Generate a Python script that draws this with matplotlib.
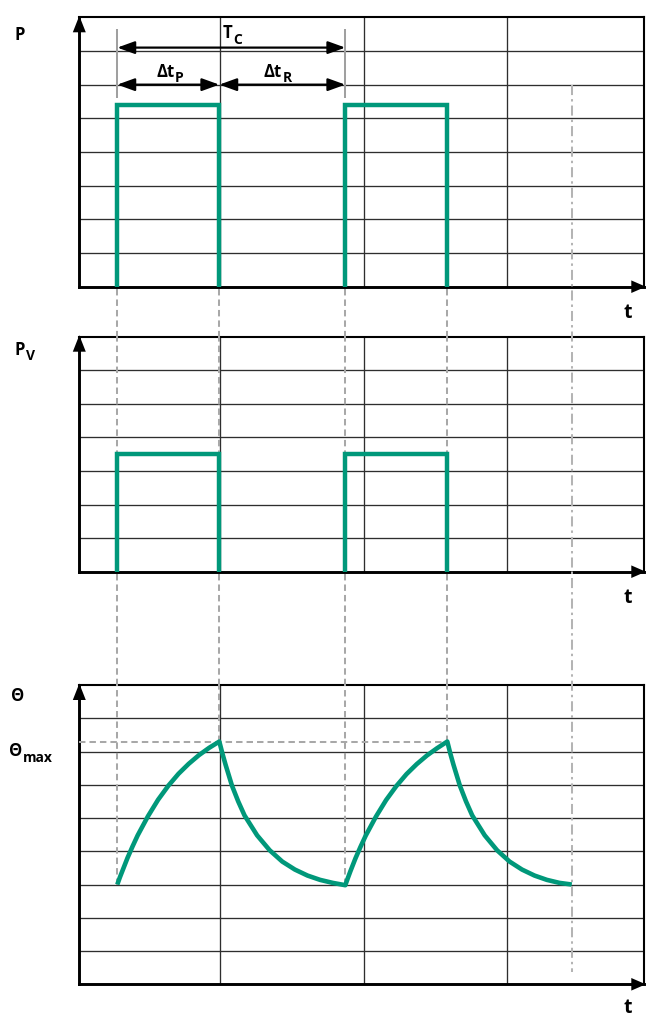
import numpy as np
import matplotlib
matplotlib.use("Agg")
import matplotlib.pyplot as plt
import matplotlib.transforms as mtransforms
from matplotlib.lines import Line2D
from matplotlib.patches import Polygon
from matplotlib import font_manager as fm

# ---------------- data ----------------
time_max = 565
grid_times = [141, 285, 428]
pulse_starts = [38, 266]
pulse_ends = [140, 368]
p_level = 5.4
pv_level = 3.5
p_rows = 8
pv_rows = 7
theta_rows = 9

theta_t = [38, 40.5, 43.1, 48.2, 53.3, 58.4, 68.6, 78.8, 89, 99.2, 109.4, 119.6, 129.8, 140,
           143.2, 146.3, 152.6, 158.9, 165.2, 177.8, 190.4, 203, 215.6, 228.2, 240.8, 253.4, 266,
           268.5, 271.1, 276.2, 281.3, 286.4, 296.6, 306.8, 317, 327.2, 337.4, 347.6, 357.8, 368,
           371.1, 374.2, 380.5, 386.7, 392.9, 405.4, 417.8, 430.3, 442.7, 455.2, 467.6, 480.1, 492.5]
theta_v = [3.0, 3.21, 3.41, 3.80, 4.15, 4.48, 5.05, 5.55, 5.97, 6.33, 6.63, 6.89, 7.11, 7.3,
           6.93, 6.6, 5.98, 5.5, 5.08, 4.48, 4.03, 3.69, 3.45, 3.27, 3.14, 3.05, 2.98,
           3.19, 3.40, 3.79, 4.14, 4.47, 5.04, 5.54, 5.96, 6.32, 6.62, 6.88, 7.1, 7.3,
           6.93, 6.6, 5.98, 5.5, 5.08, 4.48, 4.03, 3.69, 3.45, 3.27, 3.14, 3.05, 3.0]

cycle_mark_time = 492.5
cycle_mark_top_p = 6.0
cycle_mark_bottom_theta = 0.38
tc_arrow_level = 7.1
dt_arrow_level = 6.0
ext_low, ext_high = 5.6, 7.65

# ---------------- style ----------------
W, H = 646, 1019
GREEN = "#00987a"
GRID = "#2e2e2e"
DASH_GRAY = "#a8a8a8"
DASHDOT_GRAY = "#b4b4b4"
EXT_GRAY = "#a0a0a0"


def pick_bold_family():
    for fam in ["Open Sans", "Lato", "Noto Sans", "Liberation Sans"]:
        try:
            path = fm.findfont(fm.FontProperties(family=fam, weight="bold"), fallback_to_default=False)
        except Exception:
            continue
        name = path.lower().replace(" ", "").replace("-", "").replace("_", "")
        if "bold" in name and fam.lower().replace(" ", "") in name:
            return fam
    return "DejaVu Sans"


FONT = [pick_bold_family(), "DejaVu Sans"]

fig = plt.figure(figsize=(W / 100, H / 100), dpi=100)


def add_panel(top, bottom, rows):
    left, right = 79.3, 644.3
    wp, hp = right - left, bottom - top
    ax = fig.add_axes([left / W, 1 - bottom / H, wp / W, hp / H])
    ax.set_xlim(0, time_max)
    ax.set_ylim(0, rows)
    ax.set_xticks([])
    ax.set_yticks([])
    for r in range(1, rows):
        ax.axhline(r, color=GRID, lw=0.95, zorder=1)
    for g in grid_times:
        ax.axvline(g, color=GRID, lw=0.95, zorder=1)
    for s in ("top", "right"):
        ax.spines[s].set_linewidth(1.5)
        ax.spines[s].set_color("black")
    for s in ("left", "bottom"):
        ax.spines[s].set_linewidth(2.1)
        ax.spines[s].set_color("black")
    ya = Polygon([(0, 1 + 1.5 / hp), (-6.5 / wp, 1 - 15 / hp), (6.5 / wp, 1 - 15 / hp)],
                 closed=True, transform=ax.transAxes, clip_on=False,
                 facecolor="black", edgecolor="none", zorder=6)
    xa = Polygon([(1 + 1.5 / wp, 0), (1 - 13 / wp, 6.3 / hp), (1 - 13 / wp, -6.3 / hp)],
                 closed=True, transform=ax.transAxes, clip_on=False,
                 facecolor="black", edgecolor="none", zorder=6)
    ax.add_patch(ya)
    ax.add_patch(xa)
    return ax


ax1 = add_panel(17.3, 286.7, p_rows)
ax2 = add_panel(336.7, 571.7, pv_rows)
ax3 = add_panel(685.0, 984.3, theta_rows)

line_kw = dict(color=GREEN, lw=3.2, solid_joinstyle="miter", solid_capstyle="butt", zorder=4)
for s, e in zip(pulse_starts, pulse_ends):
    ax1.plot([s, s, e, e], [0, p_level, p_level, 0], **line_kw)
    ax2.plot([s, s, e, e], [0, pv_level, pv_level, 0], **line_kw)
ax3.plot(theta_t, theta_v, color=GREEN, lw=3.3, solid_joinstyle="round",
         solid_capstyle="butt", zorder=4)

# dashed guide lines
dash_kw = dict(color=DASH_GRAY, lw=1.45, dashes=(3.2, 2.0), zorder=3)
edge_times = sorted(pulse_starts + pulse_ends)
edge_theta = np.interp(edge_times, theta_t, theta_v)
blend = mtransforms.blended_transform_factory(ax1.transData, fig.transFigure)
p1, p2, p3 = ax1.get_position(), ax2.get_position(), ax3.get_position()
for t, th in zip(edge_times, edge_theta):
    ax2.plot([t, t], [0, pv_rows], **dash_kw)
    ax3.plot([t, t], [th, theta_rows], **dash_kw)
    fig.add_artist(Line2D([t, t], [p1.y0 - 2 / H, p2.y1], transform=blend, **dash_kw))
    fig.add_artist(Line2D([t, t], [p2.y0 - 2 / H, p3.y1], transform=blend, **dash_kw))

theta_max = max(theta_v)
ax3.plot([0, pulse_ends[-1]], [theta_max, theta_max], **dash_kw)

# dash-dot cycle marker
inv = fig.transFigure.inverted()
y_top = inv.transform(ax1.transData.transform((cycle_mark_time, cycle_mark_top_p)))[1]
y_bot = inv.transform(ax3.transData.transform((cycle_mark_time, cycle_mark_bottom_theta)))[1]
fig.add_artist(Line2D([cycle_mark_time] * 2, [y_top, y_bot], transform=blend,
                      color=DASHDOT_GRAY, lw=1.45, linestyle=(0, (5, 2, 1.2, 2)), zorder=5))

# dimension lines
for t in (pulse_starts[0], pulse_starts[1]):
    ax1.plot([t, t], [ext_low, ext_high], color=EXT_GRAY, lw=1.45, solid_capstyle="butt", zorder=3)
ap = dict(arrowstyle="<|-|>,head_length=1.05,head_width=0.38", color="black", lw=1.6,
          shrinkA=0, shrinkB=0, mutation_scale=10)
ax1.annotate("", xy=(pulse_starts[1], tc_arrow_level), xytext=(pulse_starts[0], tc_arrow_level), arrowprops=ap)
ax1.annotate("", xy=(pulse_ends[0], dt_arrow_level), xytext=(pulse_starts[0], dt_arrow_level), arrowprops=ap)
ax1.annotate("", xy=(pulse_starts[1], dt_arrow_level), xytext=(pulse_ends[0], dt_arrow_level), arrowprops=ap)

# ---------------- labels ----------------
renderer = fig.canvas.get_renderer()


def sub_label(x_px, y_px, main, sub="", dy=5, fs=12, sfs=10, align="left"):
    tm = fig.text(0, 0, main, fontsize=fs, fontweight="bold", family=FONT, va="baseline", ha="left")
    wm = tm.get_window_extent(renderer).width
    ws = 0
    ts = None
    if sub:
        ts = fig.text(0, 0, sub, fontsize=sfs, fontweight="bold", family=FONT, va="baseline", ha="left")
        ws = ts.get_window_extent(renderer).width
    x0 = x_px - (wm + ws) / 2 if align == "center" else x_px
    tm.set_position((x0 / W, 1 - y_px / H))
    if ts is not None:
        ts.set_position(((x0 + wm + 0.3) / W, 1 - (y_px + dy) / H))


sub_label(15, 40, "P")
sub_label(232, 38, "T", "C", dy=6, align="center")
sub_label(170, 77.3, "Δt", "P", dy=4.5, align="center")
sub_label(277.5, 77.3, "Δt", "R", dy=4.5, align="center")
sub_label(15, 355, "P", "V", dy=5)
sub_label(11, 701, "Θ")
sub_label(9, 756, "Θ", "max", dy=6, sfs=10)
for yb in (318, 603, 1013):
    sub_label(623, yb, "t", fs=14)

fig.savefig("out.png", dpi=100)
